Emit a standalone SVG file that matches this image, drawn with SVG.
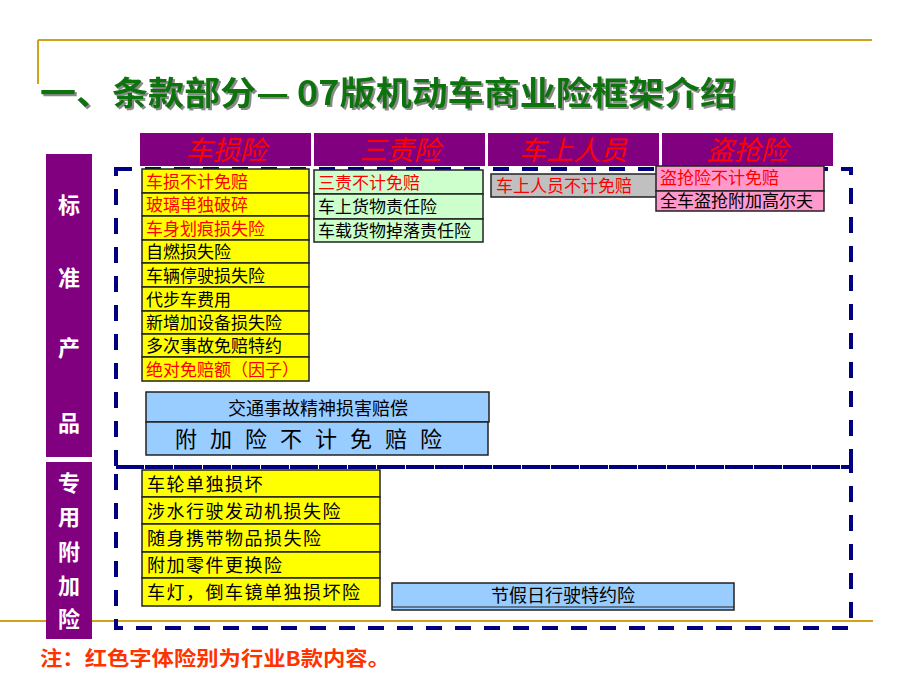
<svg xmlns="http://www.w3.org/2000/svg" width="920" height="690" viewBox="0 0 920 690">
<defs>
<filter id="shadow" x="-5%" y="-20%" width="110%" height="140%">
<feDropShadow dx="2" dy="2" stdDeviation="0.3" flood-color="#8a8a8a" flood-opacity="1"/>
</filter>
</defs>
<style>
.cj{font-family:"Noto Sans CJK SC","Liberation Sans",sans-serif}
.hdr{fill:#800080}
.htx{fill:#ff0000;font-size:27px;font-style:italic;text-anchor:middle}
.side{fill:#ffffff;font-size:22px;font-weight:bold;text-anchor:middle}
.box{stroke:#222;stroke-width:1.5}
.yel{fill:#ffff00}
.grn{fill:#ccffcc}
.gry{fill:#c0c0c0}
.pnk{fill:#ff99cc}
.blu{fill:#99ccff}
.t{font-size:17px;fill:#000}
.s18{font-size:18px;letter-spacing:1.5px}
.r{fill:#ff0000}
.dash{fill:none;stroke:#000080;stroke-width:4;stroke-dasharray:16 13}
.gold{stroke:#d4a017;stroke-width:2;fill:none}
</style>
<rect width="920" height="690" fill="#ffffff"/>
<g id="frame">
<line class="gold" x1="38" y1="40" x2="872" y2="40"/>
<line class="gold" x1="38" y1="40" x2="38" y2="84"/>
<line class="gold" x1="0" y1="621" x2="873" y2="621"/>
</g>
<g id="title" class="cj">
<text x="40" y="105" font-size="33" font-weight="bold" fill="#0b730b" filter="url(#shadow)" textLength="696" lengthAdjust="spacingAndGlyphs">一、条款部分— 07版机动车商业险框架介绍</text>
</g>
<g id="connectors">
<rect class="dash" x="116" y="169" width="735" height="298"/>
<rect class="dash" x="116" y="467" width="735" height="161"/>
</g>
<g id="side-standard" class="cj">
<rect class="hdr" x="46" y="154" width="46" height="303"/>
<text class="side" x="69" y="213">标</text>
<text class="side" x="69" y="286">准</text>
<text class="side" x="69" y="356">产</text>
<text class="side" x="69" y="431">品</text>
</g>
<g id="side-special" class="cj">
<rect class="hdr" x="46" y="462" width="46" height="177"/>
<text class="side" x="69" y="491">专</text>
<text class="side" x="69" y="525">用</text>
<text class="side" x="69" y="560">附</text>
<text class="side" x="69" y="594">加</text>
<text class="side" x="69" y="627">险</text>
</g>
<g id="hdr-chesun" class="cj">
<rect class="hdr" x="140" y="133" width="171" height="33"/>
<text class="htx" x="226" y="160">车损险</text>
</g>
<g id="hdr-sanze" class="cj">
<rect class="hdr" x="314" y="133" width="171" height="33"/>
<text class="htx" x="400" y="160">三责险</text>
</g>
<g id="hdr-cheshang" class="cj">
<rect class="hdr" x="488" y="133" width="171" height="33"/>
<text class="htx" x="573" y="160">车上人员</text>
</g>
<g id="hdr-daoqiang" class="cj">
<rect class="hdr" x="662" y="133" width="171" height="33"/>
<text class="htx" x="747" y="160">盗抢险</text>
</g>
<g id="chesun-list" class="cj">
<rect class="box yel" x="142" y="169" width="167" height="24"/>
<rect class="box yel" x="142" y="193" width="167" height="23"/>
<rect class="box yel" x="142" y="216" width="167" height="24"/>
<rect class="box yel" x="142" y="240" width="167" height="23"/>
<rect class="box yel" x="142" y="263" width="167" height="24"/>
<rect class="box yel" x="142" y="287" width="167" height="24"/>
<rect class="box yel" x="142" y="311" width="167" height="23"/>
<rect class="box yel" x="142" y="334" width="167" height="23"/>
<rect class="box yel" x="142" y="357" width="167" height="24"/>
<text class="t r" x="146" y="188">车损不计免赔</text>
<text class="t r" x="146" y="211">玻璃单独破碎</text>
<text class="t r" x="146" y="235">车身划痕损失险</text>
<text class="t" x="146" y="258">自燃损失险</text>
<text class="t" x="146" y="282">车辆停驶损失险</text>
<text class="t" x="146" y="306">代步车费用</text>
<text class="t" x="146" y="329">新增加设备损失险</text>
<text class="t" x="146" y="352">多次事故免赔特约</text>
<text class="t r" x="146" y="376">绝对免赔额（因子）</text>
</g>
<g id="sanze-list" class="cj">
<rect class="box grn" x="314" y="170" width="169" height="24"/>
<rect class="box grn" x="314" y="194" width="169" height="25"/>
<rect class="box grn" x="314" y="219" width="169" height="23"/>
<text class="t r" x="318" y="189">三责不计免赔</text>
<text class="t" x="318" y="213">车上货物责任险</text>
<text class="t" x="318" y="237">车载货物掉落责任险</text>
</g>
<g id="cheshang-list" class="cj">
<rect class="box gry" x="491" y="174" width="168" height="23"/>
<text class="t r" x="496" y="192">车上人员不计免赔</text>
</g>
<g id="daoqiang-list" class="cj">
<rect class="box pnk" x="656" y="166" width="168" height="25"/>
<rect class="box pnk" x="656" y="191" width="168" height="20"/>
<text class="t r" x="660" y="184">盗抢险不计免赔</text>
<text class="t" x="660" y="207">全车盗抢附加高尔夫</text>
</g>
<g id="blue-boxes" class="cj">
<rect class="box blu" x="146" y="392" width="343" height="30"/>
<rect class="box blu" x="146" y="422" width="342" height="33"/>
<text class="t" x="318" y="415" style="font-size:18px" text-anchor="middle">交通事故精神损害赔偿</text>
<text class="t" x="175" y="447" style="font-size:22px;letter-spacing:13px">附加险不计免赔险</text>
</g>
<g id="special-list" class="cj">
<rect class="box yel" x="142" y="470" width="238" height="27"/>
<rect class="box yel" x="142" y="497" width="238" height="27"/>
<rect class="box yel" x="142" y="524" width="238" height="28"/>
<rect class="box yel" x="142" y="552" width="238" height="26"/>
<rect class="box yel" x="142" y="578" width="238" height="28"/>
<text class="t s18" x="147" y="491">车轮单独损坏</text>
<text class="t s18" x="147" y="518">涉水行驶发动机损失险</text>
<text class="t s18" x="147" y="545">随身携带物品损失险</text>
<text class="t s18" x="147" y="572">附加零件更换险</text>
<text class="t s18" x="147" y="599">车灯，倒车镜单独损坏险</text>
</g>
<g id="holiday" class="cj">
<rect class="box blu" x="392" y="583" width="342" height="27"/>
<line x1="392" y1="607" x2="734" y2="607" stroke="#222" stroke-width="1"/>
<text class="t" x="563" y="602" style="font-size:18px" text-anchor="middle">节假日行驶特约险</text>
</g>
<g id="note" class="cj">
<text x="40" y="666" font-size="20" font-weight="bold" fill="#ff3300" textLength="350" lengthAdjust="spacingAndGlyphs">注：红色字体险别为行业B款内容。</text>
</g>
</svg>
